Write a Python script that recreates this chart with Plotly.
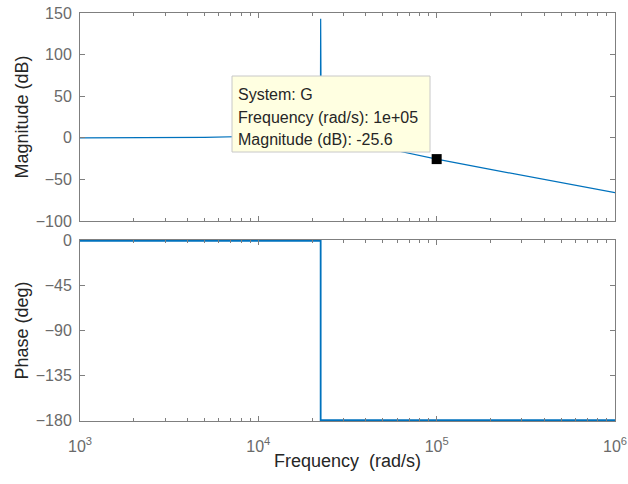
import plotly.graph_objects as go

# ---- data ----
freq_mag = [1e3, 2e3, 5e3, 1e4, 1.5e4, 2e4, 2.2e4, 2.23e4, 2.236e4, 2.24e4, 2.25e4,
            2.3e4, 2.5e4, 3e4, 4e4, 5e4, 7e4, 1e5, 2e5, 5e5, 1e6]
mag_db = [0.0, 0.07, 0.44, 1.9, 5.2, 14.0, 29.9, 45.3, 143.0, 49.1, 38.1,
          24.7, 12.0, -1.9, -6.8, -12.0, -18.9, -25.6, -37.9, -54.0, -66.0]

freq_ph = [1e3, 2.236e4, 2.236e4, 1e6]
phase_deg = [0, 0, -180, -180]

tip_freq = 1e5
tip_mag = -25.6
tip_lines = ["System: G", "Frequency (rad/s): 1e+05", "Magnitude (dB): -25.6"]

mag_ticks = [-100, -50, 0, 50, 100, 150]
ph_ticks = [-180, -135, -90, -45, 0]
x_ticks = [1e3, 1e4, 1e5, 1e6]
x_ticktext = ["10<sup>3</sup>", "10<sup>4</sup>", "10<sup>5</sup>", "10<sup>6</sup>"]

LINE = "#0072BD"
AX = "#7f7f7f"
TICKC = "#6a6a6a"
FONT = "Liberation Sans, Arial, sans-serif"

fig = go.Figure()
fig.add_trace(go.Scatter(x=freq_mag, y=mag_db, mode="lines",
                         line=dict(color=LINE, width=1.2), xaxis="x", yaxis="y",
                         hoverinfo="skip"))
fig.add_trace(go.Scatter(x=[tip_freq], y=[tip_mag], mode="markers",
                         marker=dict(symbol="square", size=10, color="black"),
                         xaxis="x", yaxis="y", hoverinfo="skip"))
fig.add_trace(go.Scatter(x=freq_ph, y=phase_deg, mode="lines",
                         line=dict(color=LINE, width=1.8), xaxis="x2", yaxis="y2",
                         hoverinfo="skip"))

common_x = dict(type="log", range=[3, 6], showline=True, linecolor=AX, linewidth=1,
                mirror="ticks", ticks="inside", ticklen=5, tickcolor=AX,
                tickvals=x_ticks, showgrid=False, zeroline=False, automargin=False,
                ticklabeloverflow="allow", ticklabelstandoff=11,
                minor=dict(ticks="inside", ticklen=3, tickcolor=AX, dtick="D1",
                           showgrid=False),
                tickfont=dict(family=FONT, size=16, color=TICKC))
common_y = dict(showline=True, linecolor=AX, linewidth=1, mirror="ticks",
                ticks="inside", ticklen=5, tickcolor=AX, showgrid=False,
                zeroline=False, automargin=False, ticklabeloverflow="allow",
                ticklabelstandoff=4,
                tickfont=dict(family=FONT, size=16, color=TICKC))

bot = (421 - 240) / 408
top0 = (421 - 221) / 408

fig.update_layout(
    width=628, height=484,
    margin=dict(l=80, r=13, t=13, b=63, autoexpand=False),
    paper_bgcolor="white", plot_bgcolor="white",
    showlegend=False,
    font=dict(family=FONT, color="#262626"),
    xaxis=dict(common_x, domain=[0, 1], anchor="y", showticklabels=False,
               matches="x2"),
    yaxis=dict(common_y, domain=[top0, 1], range=[-100, 150], tickvals=mag_ticks,
               title=dict(text="Magnitude (dB)", standoff=2,
                          font=dict(family=FONT, size=18, color="#262626"))),
    xaxis2=dict(common_x, domain=[0, 1], anchor="y2", ticktext=x_ticktext,
                title=dict(text="Frequency \u00a0(rad/s)", standoff=0,
                           font=dict(family=FONT, size=18, color="#262626"))),
    yaxis2=dict(common_y, domain=[0, bot], range=[-180.8, 0.8], tickvals=ph_ticks,
                layer="below traces",
                title=dict(text="Phase (deg)", standoff=2,
                           font=dict(family=FONT, size=18, color="#262626"))),
)

# data tip box (positions in pixels -> paper fraction)
def px(xp):
    return (xp - 80) / 535

def py(yp):
    return (421 - yp) / 408

fig.add_shape(type="rect", xref="paper", yref="paper",
              x0=px(232), x1=px(430), y0=py(152), y1=py(76),
              fillcolor="#FFFFE1", line=dict(color="#c8c8c8", width=1), layer="above")
for txt, yp in zip(tip_lines, [95, 117, 139]):
    fig.add_annotation(xref="paper", yref="paper", x=px(236), y=py(yp),
                       xanchor="left", yanchor="middle", showarrow=False,
                       text=txt, font=dict(family=FONT, size=16, color="#262626"))

fig.write_html(
    "out.html",
    config={"displayModeBar": False, "staticPlot": True},
    post_script="document.body.style.margin='0';"
                "document.documentElement.style.overflow='hidden';"
                "document.body.style.overflow='hidden';",
)
